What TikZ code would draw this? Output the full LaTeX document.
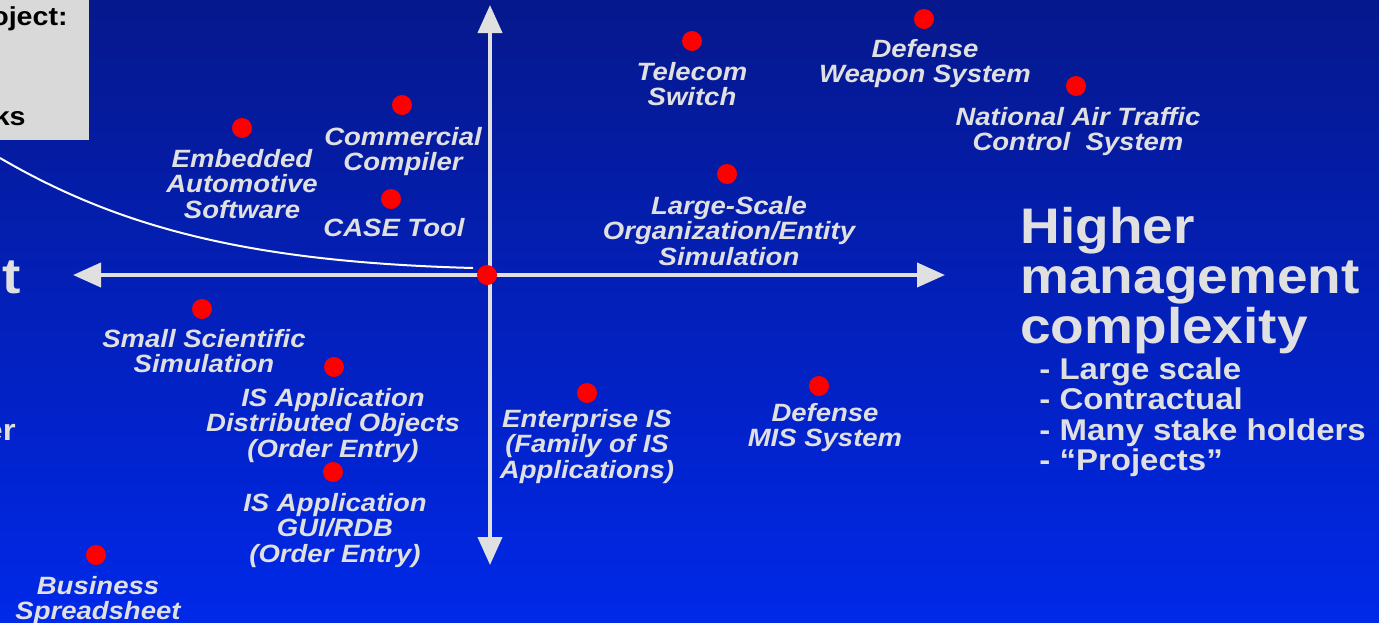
\documentclass[tikz,border=0pt]{standalone}
\usepackage{fontspec}
\setmainfont{Liberation Sans}[FakeStretch=1.1]
\usetikzlibrary{arrows.meta,positioning}
\definecolor{slidetop}{RGB}{6,24,140}
\definecolor{slidebot}{RGB}{0,40,232}
\definecolor{chalk}{RGB}{224,224,224}
\definecolor{boxgray}{RGB}{217,217,217}

\begin{document}
\begin{tikzpicture}[x=0.5pt, y=-0.5pt, >={Triangle[length=14pt,width=12pt]},
  dot/.style={circle,fill=red,inner sep=0pt,minimum size=10pt},
  lbl/.style={text=chalk,font=\fontsize{12.5}{12.7}\selectfont\bfseries\itshape,
    align=center,anchor=north,inner sep=0pt},
  axis/.style={draw=chalk,line width=2pt},
  headline/.style={text=chalk,font=\fontsize{25}{25}\selectfont\bfseries,
    align=left,inner sep=0pt},
  points/.style={text=chalk,font=\fontsize{15}{15.25}\selectfont\bfseries,
    align=left,inner sep=0pt},
  boxtext/.style={text=black,font=\fontsize{13}{13}\selectfont\bfseries,inner sep=0pt}]
\useasboundingbox (0,0) rectangle (1379,622);
\clip (0,0) rectangle (1379,622);
\shade[top color=slidetop, bottom color=slidebot] (0,0) rectangle (1379,622);

% legend box cut by the left edge
\fill[boxgray] (-10,-10) rectangle (89,140);
\node[boxtext,anchor=base east] (boxtop) at (68,25) {oject:};
\node[boxtext,anchor=base east] (boxbot) at (26,125) {ks};

% the curve from the box down to the origin
\coordinate (curveS) at (0,158);
\coordinate (curveE) at (473,268);
\draw[white!94!chalk,line width=1pt] (curveS) .. controls (120,228) and (250,262) .. (curveE);

% axes
\coordinate (xl) at (73,275);
\coordinate (xr) at (945,275);
\coordinate (yt) at (490,5);
\coordinate (yb) at (490,565);
\draw[axis,<->] (xl) -- (xr);
\draw[axis,<->] (yt) -- (yb);

% projects
\node[dot] (origin) at (487,275) {};
\node[dot] (telecom) at (692,41) {};
\node[dot] (weapon) at (924,19) {};
\node[dot] (airtraffic) at (1076,86) {};
\node[dot] (compiler) at (402,105) {};
\node[dot] (embedded) at (242,128) {};
\node[dot] (casetool) at (391,199) {};
\node[dot] (largesim) at (727,174) {};
\node[dot] (smallsim) at (202,309) {};
\node[dot] (isdist) at (334,367) {};
\node[dot] (isgui) at (333,472) {};
\node[dot] (spreadsheet) at (96,555) {};
\node[dot] (enterprise) at (587,393) {};
\node[dot] (mis) at (819,386) {};

\node[lbl] (telecomL) at (692,62) {Telecom\\Switch};
\node[lbl] (weaponL) at (925,39) {Defense\\Weapon System};
\node[lbl] (airtrafficL) at (1078,107) {National Air Traffic\\Control\ \ System};
\node[lbl] (compilerL) at (403,127) {Commercial\\Compiler};
\node[lbl] (embeddedL) at (242,149) {Embedded\\Automotive\\Software};
\node[lbl] (casetoolL) at (394,218) {CASE Tool};
\node[lbl] (largesimL) at (729,196) {Large-Scale\\Organization/Entity\\Simulation};
\node[lbl] (smallsimL) at (204,329) {Small Scientific\\Simulation};
\node[lbl] (isdistL) at (333,388) {IS Application\\Distributed Objects\\(Order Entry)};
\node[lbl] (isguiL) at (335,493) {IS Application\\GUI/RDB\\(Order Entry)};
\node[lbl] (spreadsheetL) at (98,576) {Business\\Spreadsheet};
\node[lbl] (enterpriseL) at (587,409) {Enterprise IS\\(Family of IS\\Applications)};
\node[lbl] (misL) at (825,403) {Defense\\MIS System};

% right hand side
\node[headline,anchor=north west] (higher) at (1020,207) {Higher\\management\\complexity};
\node[points,anchor=north west] (traits) at (1039,357)
  {- Large scale\\- Contractual\\- Many stake holders\\- “Projects”};

% left hand side, cut by the edge
\node[headline,anchor=base east] (lowerEnd) at (21,293) {t};
\node[points,anchor=base east] (listEnd) at (16,440) {er};
\end{tikzpicture}
\end{document}
